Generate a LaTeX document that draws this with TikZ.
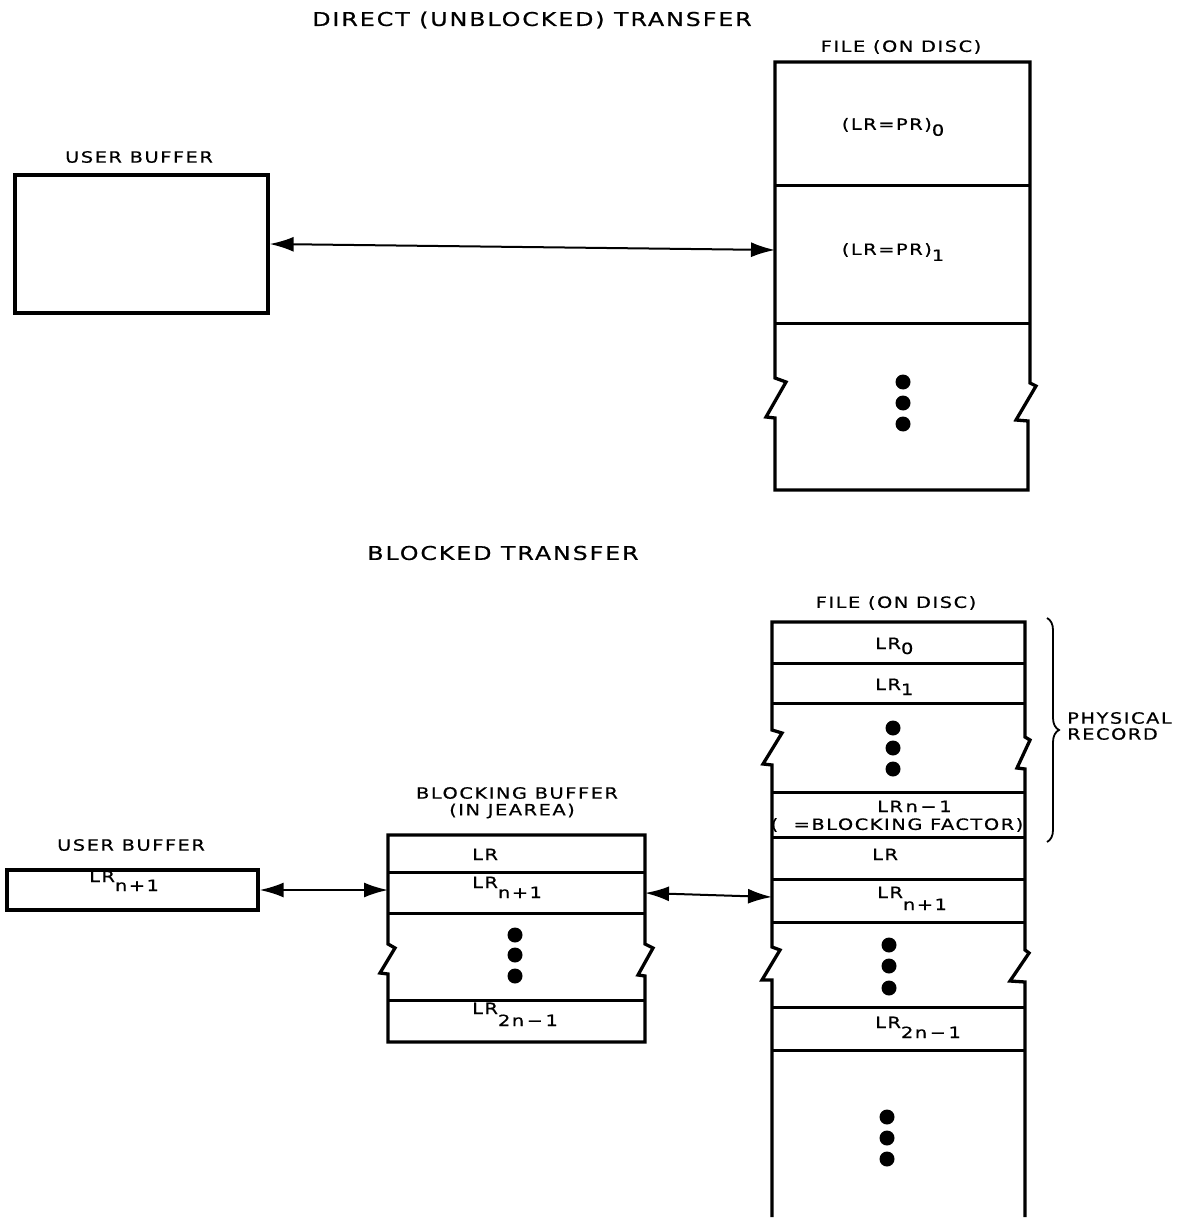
\documentclass[tikz,border=0pt]{standalone}
\usepackage{fontspec}
\newfontfamily\wfont[FakeStretch=1.25,LetterSpace=10,FakeBold=0.6]{DejaVu Sans}
\usetikzlibrary{arrows.meta,decorations.pathreplacing}
\newcommand\lrs[2]{LR\raisebox{-#2}{#1}}
\tikzset{
  x=1pt, y=-1pt,
  box/.style={line width=3.3pt, line join=miter},
  divl/.style={line width=3pt},
  conn/.style={line width=2pt, {Latex[length=24pt,width=15pt]}-{Latex[length=24pt,width=15pt]}},
  lbl/.style={font=\wfont\fontsize{15.5}{18}\selectfont, inner sep=0pt},
  ttl/.style={font=\wfont\fontsize{19}{22}\selectfont, inner sep=0pt},
  blob/.style={circle, fill, inner sep=0pt, minimum size=15pt},
  plainbox/.style={draw, box, inner sep=0pt},
}
\begin{document}
\begin{tikzpicture}
\useasboundingbox (0,0) rectangle (1193,1222);
% ---------------- top: direct transfer
\node[ttl] (t1) at (532,20) {DIRECT (UNBLOCKED) TRANSFER};
\node[lbl] (fl1) at (901,47) {FILE (ON DISC)};
\node[lbl] (ul1) at (139,157) {USER BUFFER};
\node[plainbox, minimum width=253pt, minimum height=138pt] (ub1) at (141.5,244) {};
% file box
\draw[box] (775,62) -- (1030,62) -- (1030,383) -- (1036,386) -- (1016,420) -- (1028,421)
  -- (1028,490) -- (775,490) -- (775,418) -- (766,417) -- (786,382) -- (775,378) -- cycle;
\draw[divl] (775,186) -- (1030,186);
\draw[divl] (775,323) -- (1030,323);
\node[lbl] (r0) at (893,127) {(LR=PR)\raisebox{-6pt}{0}};
\node[lbl] (r1) at (893,252) {(LR=PR)\raisebox{-6pt}{1}};
\node[blob] (d1) at (903,382) {};
\node[blob] (d2) at (903,403) {};
\node[blob] (d3) at (903,424) {};
\coordinate (f1in) at (775,250);
\draw[conn] (ub1.east) -- (f1in);
% ---------------- bottom: blocked transfer
\node[ttl] (t2) at (503,553) {BLOCKED TRANSFER};
\node[lbl] (fl2) at (896,603) {FILE (ON DISC)};
\node[lbl] (ul2) at (131,845) {USER BUFFER};
\node[plainbox, minimum width=251pt, minimum height=40pt] (ub2) at (132.5,890) {};
\node[lbl, anchor=base west] (u2t) at (89,882) {\lrs{n+1}{9pt}};
% blocking buffer
\node[lbl] (bl1) at (517,793) {BLOCKING BUFFER};
\node[lbl] (bl2) at (512,811) {(IN JEAREA)};
\draw[box] (388,835) -- (645,835) -- (645,944) -- (653,948) -- (638,975) -- (645,976)
  -- (645,1042) -- (388,1042) -- (388,974) -- (380,973) -- (395,948) -- (388,944) -- cycle;
\draw[divl] (388,872) -- (645,872);
\draw[divl] (388,913) -- (645,913);
\draw[divl] (388,1000) -- (645,1000);
\node[lbl, anchor=base west] (b1) at (472,860) {LR};
\node[lbl, anchor=base west] (b2) at (472,888) {\lrs{n+1}{10pt}};
\node[lbl, anchor=base west] (b3) at (472,1014) {\lrs{2n\,−\,1}{12pt}};
\node[blob] (bd1) at (515,935) {};
\node[blob] (bd2) at (515,955) {};
\node[blob] (bd3) at (515,976) {};
\coordinate (bbL) at (388,890);
\coordinate (bbR) at (645,893);
% file (blocked)
\draw[box] (772,1217) -- (772,980) -- (762,980) -- (780,950) -- (772,947) -- (772,765)
  -- (763,764) -- (782,733) -- (772,730) -- (772,622) -- (1025,622) -- (1025,737)
  -- (1030,740) -- (1017,768) -- (1025,769) -- (1025,950) -- (1029,953) -- (1010,981)
  -- (1025,982) -- (1025,1217);
\foreach \yy in {663,703,792,837,879,922,1007,1050}
  \draw[divl] (772,\yy) -- (1025,\yy);
\node[lbl, anchor=base west] (c0) at (875,649) {\lrs{0}{5pt}};
\node[lbl, anchor=base west] (c1) at (875,690) {\lrs{1}{5pt}};
\node[lbl, anchor=base west] (c2) at (877,812) {LR\,n\,−\,1};
\node[lbl] (c2b) at (897,825) {(\ \ =BLOCKING FACTOR)};
\node[lbl, anchor=base west] (c3) at (872,860) {LR};
\node[lbl, anchor=base west] (c4) at (877,898) {\lrs{n+1}{12pt}};
\node[lbl, anchor=base west] (c5) at (875,1028) {\lrs{2n\,−\,1}{10pt}};
\node[blob] (fd1) at (893,728) {};
\node[blob] (fd2) at (893,748) {};
\node[blob] (fd3) at (893,769) {};
\node[blob] (fd4) at (889,945) {};
\node[blob] (fd5) at (889,966) {};
\node[blob] (fd6) at (889,988) {};
\node[blob] (fd7) at (887,1117) {};
\node[blob] (fd8) at (887,1138) {};
\node[blob] (fd9) at (887,1159) {};
\coordinate (f2in) at (772,897);
\draw[conn] (ub2.east) -- (bbL);
\draw[conn] (bbR) -- (f2in);
% brace
\draw[line width=1.8pt, decorate, decoration={brace, amplitude=12pt}] (1047,618) -- (1047,842);
\node[lbl, anchor=west, align=left] (pr) at (1067,726) {PHYSICAL\\[-2pt]RECORD};
\end{tikzpicture}
\end{document}
